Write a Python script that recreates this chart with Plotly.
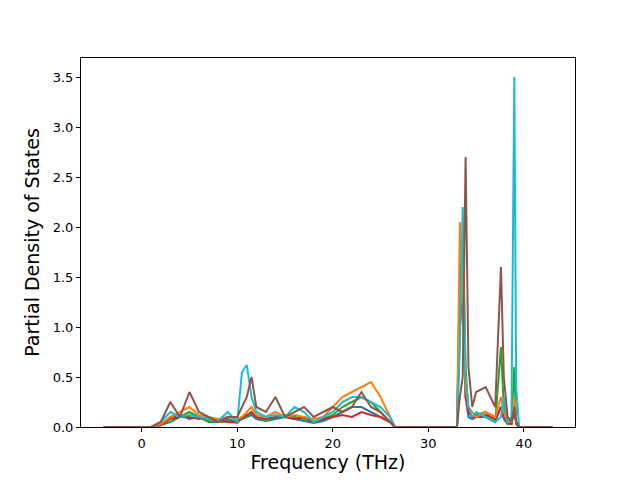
import plotly.graph_objects as go

freq = [-4, 1, 2, 3, 4, 5, 6, 7, 8, 9, 10, 10.5, 11, 11.5, 12, 13, 14, 15, 16, 17, 18, 19, 20, 21, 22, 23, 24, 25, 26, 26.5,
        33, 33.3, 33.6, 33.9, 34.2, 34.6, 35, 36, 37, 37.6, 37.9, 38.3, 38.7, 39.0, 39.2, 39.5, 43]

blue = [0,0,0.02,0.1,0.12,0.08,0.1,0.05,0.05,0.08, 0.05,0.08,0.1,0.12,0.08,0.06,0.08,0.1,0.08,0.06,
        0.04,0.06,0.1,0.15,0.2,0.2,0.15,0.1,0.05,0, 0,1.5,1.8,0.3,0.1,0.08,0.1,0.1,0.05,0.2, 0.08,0.03,0.03,0.25,0.03,0,0]
green = [0,0,0.02,0.05,0.1,0.15,0.1,0.06,0.05,0.06, 0.04,0.1,0.1,0.15,0.1,0.06,0.1,0.12,0.1,0.08,
         0.05,0.08,0.12,0.2,0.25,0.3,0.25,0.15,0.05,0, 0,1.2,1.9,0.6,0.15,0.1,0.12,0.15,0.05,0.8, 0.2,0.03,0.03,0.6,0.05,0,0]
red = [0,0,0.02,0.08,0.1,0.1,0.08,0.1,0.06,0.05, 0.05,0.1,0.12,0.15,0.1,0.08,0.1,0.1,0.08,0.1,
       0.05,0.08,0.1,0.12,0.1,0.15,0.12,0.1,0.05,0, 0,1.0,1.3,0.3,0.15,0.1,0.1,0.12,0.08,0.2, 0.1,0.05,0.03,0.15,0.03,0,0]
orange = [0,0,0.03,0.1,0.15,0.2,0.12,0.1,0.08,0.1, 0.08,0.1,0.15,0.2,0.12,0.1,0.15,0.1,0.12,0.1,
          0.08,0.1,0.2,0.3,0.35,0.4,0.45,0.3,0.1,0, 0,2.05,1.4,0.4,0.2,0.15,0.1,0.15,0.1,0.3, 0.15,0.05,0.05,0.3,0.05,0,0]
cyan = [0,0,0.05,0.15,0.1,0.12,0.1,0.08,0.06,0.15, 0.05,0.55,0.62,0.3,0.15,0.1,0.12,0.1,0.2,0.15,
        0.05,0.1,0.15,0.25,0.3,0.3,0.25,0.2,0.1,0, 0,0.8,2.2,0.5,0.2,0.1,0.15,0.1,0.05,0.1, 0.3,0.05,0.1,3.5,0.4,0,0]
brown = [0,0,0.05,0.25,0.1,0.35,0.15,0.1,0.05,0.1, 0.1,0.2,0.3,0.5,0.2,0.15,0.3,0.1,0.15,0.2,
         0.1,0.15,0.2,0.15,0.2,0.35,0.2,0.15,0.05,0, 0,0.3,0.5,2.7,0.6,0.2,0.35,0.4,0.2,1.6, 0.5,0.1,0.05,0.2,0.05,0,0]

series = [(blue, "#1f77b4"), (green, "#2ca02c"), (red, "#d62728"), (orange, "#ff7f0e"),
          (cyan, "#17becf"), (brown, "#8c564b")]

fig = go.Figure()
for vals, col in series:
    fig.add_trace(go.Scatter(x=freq, y=vals, mode="lines", line=dict(color=col, width=2), showlegend=False))

axis = dict(showline=True, linecolor="black", linewidth=1, mirror=True, ticks="outside",
            ticklen=4, tickcolor="black", showgrid=False, zeroline=False, automargin=False,
            tickfont=dict(family="DejaVu Sans", size=13, color="black"))
fig.update_layout(
    width=640, height=480, margin=dict(l=73, r=73, t=50, b=61),
    paper_bgcolor="white", plot_bgcolor="white",
    xaxis=dict(axis, range=[-6.35, 45.35], tickvals=[0, 10, 20, 30, 40],
               title=dict(text="Frequency (THz)", font=dict(family="DejaVu Sans", size=19, color="black"), standoff=4)),
    yaxis=dict(axis, range=[0, 3.69], tickvals=[0, 0.5, 1, 1.5, 2, 2.5, 3, 3.5], tickformat=".1f",
               title=dict(text="Partial Density of States", font=dict(family="DejaVu Sans", size=19, color="black"), standoff=8)),
)
fig.write_html("out.html")
